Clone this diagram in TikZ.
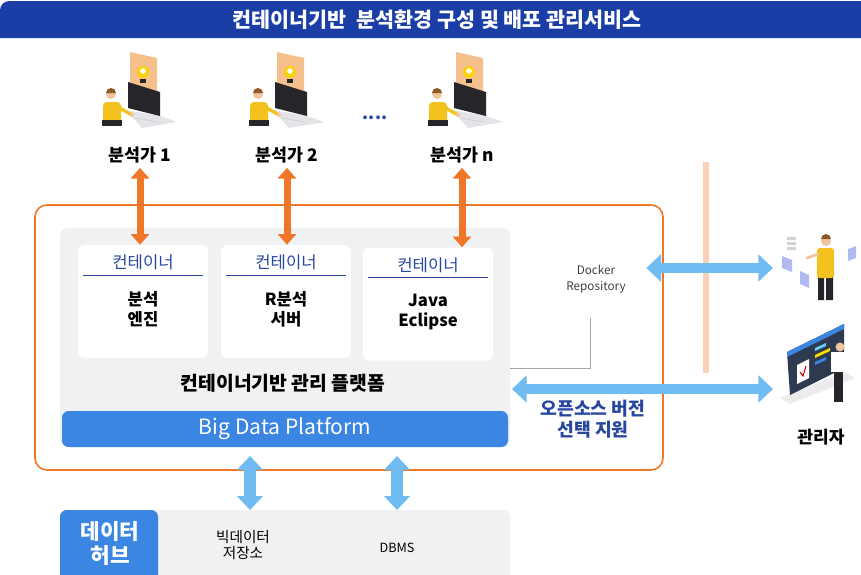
\documentclass[tikz,border=0pt]{standalone}
\usepackage{fontspec}
\setmainfont{Noto Sans CJK KR}
\usepackage{tikz}
\usetikzlibrary{positioning,arrows.meta}
\definecolor{c_title}{RGB}{26,62,166}
\definecolor{c_orange}{RGB}{240,118,40}
\definecolor{c_sky}{RGB}{112,188,242}
\definecolor{c_bdp}{RGB}{58,134,226}
\definecolor{c_panel}{RGB}{240,241,243}
\definecolor{c_navy}{RGB}{40,72,160}
\definecolor{c_peach}{RGB}{250,208,182}
\definecolor{c_paper}{RGB}{245,192,140}
\definecolor{c_yellow}{RGB}{244,194,30}
\definecolor{c_skin}{RGB}{240,196,156}
\definecolor{c_hair}{RGB}{140,90,40}
\definecolor{c_dark}{RGB}{38,38,42}
\definecolor{c_key}{RGB}{226,228,232}
\definecolor{c_lilac}{RGB}{176,186,240}
\definecolor{c_board}{RGB}{46,58,80}
\tikzset{c-box/.style={rectangle, rounded corners=5pt, fill=white, minimum width=97.5pt, minimum height=84.75pt},
c-head/.style={text=c_navy, font=\fontsize{12.5}{14}\selectfont},
c-body/.style={align=center, font=\bfseries\fontsize{12.5}{15}\selectfont},
label-a/.style={font=\bfseries\fontsize{13}{15}\selectfont},
orange-arrow/.style={draw=c_orange, line width=5.25pt, arrows={Triangle[length=8pt,width=13.5pt]-Triangle[length=8pt,width=13.5pt]}},
sky-arrow/.style={draw=c_sky, line width=8pt, arrows={Triangle[length=11pt,width=20pt]-Triangle[length=11pt,width=20pt]}},
analyst/.pic={
% paper with light bulb
\fill[c_paper] (0,0) -- (27,6) -- (27,52) -- (0,46) -- cycle;
\fill[yellow!70!orange] (13,20) circle (6);
\fill[white] (13,19) circle (2.8);
\fill[c_dark] (10,27) rectangle (16,31);
% laptop
\fill[c_key] (-4,58) -- (30,64) -- (47,70) -- (12,76) -- cycle;
\draw[gray!40] (4,66) -- (28,70);
\fill[c_dark] (-2,30) -- (30,40) -- (30,64) -- (-2,56) -- cycle;
% person
\fill[c_yellow, rounded corners=3pt] (-27,50) rectangle (-9,72);
\draw[c_yellow, line width=2.5pt, line cap=round] (-12,55) -- (2,63);
\fill[c_dark] (-28,68) rectangle (-8,74);
\fill[c_skin] (-19,42) circle (5);
\fill[c_hair] (-24,41) arc (180:360:5) -- cycle;
\fill[c_skin] (2,63) circle (2);
}}

\begin{document}
\begin{tikzpicture}[x=0.75pt,y=-0.75pt]
\useasboundingbox (0,0) rectangle (861,575);

% title bar
\fill[c_title] (0,38) [rounded corners=7pt] -- (0,1) [sharp corners] -- (861,1) -- (861,38) -- cycle;
\node (title) at (437,20) [text=white, font=\bfseries\fontsize{15.5}{17}\selectfont] {컨테이너기반\enspace 분석환경 구성 및 배포 관리서비스};

% analysts
\pic at (130,52) {analyst};
\pic at (277,52) {analyst};
\pic at (456,52) {analyst};
\node (dots) at (375,118) [font=\bfseries\fontsize{13}{13}\selectfont, text=c_navy] {....};
\node (a1) at (140,155) [label-a] {분석가 1};
\node (a2) at (287,155) [label-a] {분석가 2};
\node (a3) at (462,155) [label-a] {분석가 n};

% service frame and platform panel
\draw[c_orange, line width=1.2pt, rounded corners=9pt] (35,205) rectangle (663,470);
\fill[c_panel, rounded corners=5pt] (60,228) rectangle (510,447);
\fill[c_bdp, rounded corners=5pt] (62,411) rectangle (508,447);
\node (bdp) at (285,429) [text=white, font=\fontsize{15.8}{17}\selectfont] {Big Data Platform};
\node (mgmt) at (283,383) [font=\bfseries\fontsize{14.5}{16}\selectfont] {컨테이너기반 관리 플랫폼};
\coordinate (panel-e) at (512,389);

% containers
\node (c1) at (143,301.5) [c-box] {};
\node (c2) at (286,301.5) [c-box] {};
\node (c3) at (428,304) [c-box] {};
\foreach \c/\txt in {c1/{분석\\엔진}, c2/{R분석\\서버}, c3/{Java\\Eclipse}} {
\node (\c-h) [c-head, below=4pt of \c.north] {컨테이너};
\draw[c_navy, line width=0.6pt] ([xshift=4pt, yshift=-0.5pt]\c.west |- \c-h.south) -- ([xshift=-4pt, yshift=-0.5pt]\c.east |- \c-h.south);
\node (\c-b) [c-body, below=9pt of \c-h] {\txt};
}

\draw[orange-arrow] (a1.south) -- (a1.south |- c1.north);
\draw[orange-arrow] (a2.south) -- (a2.south |- c2.north);
\draw[orange-arrow] (a3.south) -- (a3.south |- c3.north);

% docker repository
\node (dock) at (596,279) [align=center, text=black!75, font=\fontsize{8.8}{12}\selectfont] {Docker\\Repository};
\draw[gray!70, line width=0.6pt] (590,318) -- (590,368) -- (510,368);

% divider
\draw[c_peach, line width=4pt] (706,162) -- (706,373);

% developer and administrator
\coordinate (dev) at (773,268);
\coordinate (admin) at (773,389);
\fill[gray!35] (787,237) rectangle (796,240) (787,242) rectangle (796,245) (787,247) rectangle (796,250);
\fill[c_lilac] (782,256) -- (792,260) -- (792,272) -- (782,268) -- cycle;
\fill[c_lilac] (800,271) -- (809,275) -- (809,288) -- (800,284) -- cycle;
\fill[c_lilac] (848,249) -- (856,246) -- (856,258) -- (848,261) -- cycle;
\fill[c_dark] (818,276) rectangle (824,300) (826,276) rectangle (833,300);
\fill[c_yellow, rounded corners=2pt] (817,248) rectangle (834,278);
\draw[c_skin, line width=2pt, line cap=round] (818,254) -- (807,258);
\fill[c_skin] (826,241) circle (5);
\fill[c_hair] (821,239) arc (180:360:5) -- cycle;

\fill[gray!15] (780,398) -- (845,372) -- (855,378) -- (790,404) -- cycle;
\fill[c_board] (787,352) -- (844,324) -- (844,368) -- (790,395) -- cycle;
\fill[c_bdp] (787,352) -- (844,324) -- (844,329) -- (787,357) -- cycle;
\fill[white] (797,365) -- (809,359) -- (809,378) -- (797,384) -- cycle;
\draw[red!80!black, line width=0.8pt] (800,372) -- (803,376) -- (806,366);
\fill[cyan!60] (815,348) -- (826,343) -- (826,346) -- (815,351) -- cycle;
\fill[yellow!80!orange] (815,355) -- (830,348) -- (830,351) -- (815,358) -- cycle;
\fill[c_bdp] (815,362) -- (826,357) -- (826,360) -- (815,365) -- cycle;
\fill[c_dark] (834,370) rectangle (843,402);
\fill[white] (831,352) rectangle (845,372);
\fill[c_skin] (840,347) circle (4.5);
\node (mgr) at (821,437) [font=\bfseries\fontsize{12.8}{14}\selectfont] {관리자};

\draw[sky-arrow] ([xshift=12]dock.east |- dev) -- (dev);
\draw[sky-arrow] (admin) -- (panel-e);
\node (oss) at (593,419) [align=center, text=c_navy, font=\bfseries\fontsize{13.7}{16}\selectfont] {오픈소스 버전\\선택 지원};

% data hub
\fill[c_panel, rounded corners=5pt] (60,510) rectangle (510,585);
\fill[c_bdp, rounded corners=5pt] (60,510) rectangle (158,585);
\node (hub) at (110,543) [align=center, text=white, font=\bfseries\fontsize{16}{18}\selectfont] {데이터\\허브};
\node (store) at (243,545) [align=center, font=\fontsize{11}{12.5}\selectfont] {빅데이터\\저장소};
\node (dbms) at (397,548) [font=\fontsize{9.5}{12}\selectfont] {DBMS};
\coordinate (hub-n1) at (250,510);
\coordinate (hub-n2) at (397,510);
\draw[sky-arrow, line width=9pt, arrows={Triangle[length=10.5pt,width=19pt]-Triangle[length=10.5pt,width=19pt]}] (hub-n1) -- (hub-n1 |- 0,456);
\draw[sky-arrow, line width=9pt, arrows={Triangle[length=10.5pt,width=19pt]-Triangle[length=10.5pt,width=19pt]}] (hub-n2) -- (hub-n2 |- 0,456);
\end{tikzpicture}
\end{document}
